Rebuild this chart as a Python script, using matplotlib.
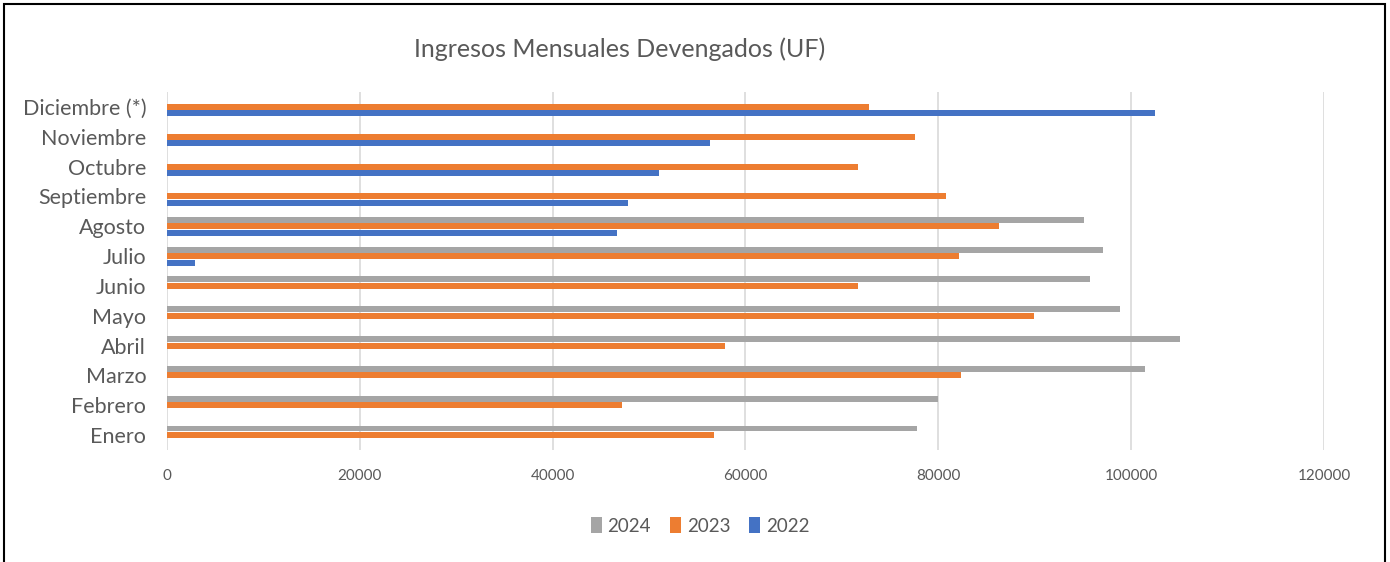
import matplotlib.pyplot as plt
import matplotlib.patches as patches
import numpy as np

plt.rcParams['font.family'] = ['Lato', 'DejaVu Sans']

# months, bottom to top as drawn
meses = ['Enero', 'Febrero', 'Marzo', 'Abril', 'Mayo', 'Junio', 'Julio',
         'Agosto', 'Septiembre', 'Octubre', 'Noviembre', 'Diciembre (*)']
# ingresos en UF (None = sin dato)
v2024 = [77780, 79950, 101440, 105100, 98840, 95780, 97130, 95140,
         None, None, None, None]
v2023 = [56710, 47180, 82360, 57830, 89900, 71710, 82130, 86250,
         80790, 71710, 77590, 72820]
v2022 = [None, None, None, None, None, None, 2910, 46710,
         47820, 51070, 56290, 102500]

series = [('2024', v2024, '#A5A5A5', 0.22),
          ('2023', v2023, '#ED7D31', 0.0),
          ('2022', v2022, '#4472C4', -0.22)]

txt_color = '#595959'

fig = plt.figure(figsize=(13.9, 5.62), dpi=100)
ax = fig.add_axes([167 / 1390, 0.1993, (1324 - 167) / 1390, 0.637])

y = np.arange(len(meses))
for name, vals, col, off in series:
    ys = [yy + off for yy, v in zip(y, vals) if v is not None]
    xs = [v for v in vals if v is not None]
    ax.barh(ys, xs, height=0.2, color=col, label=name, zorder=3)

ax.set_xlim(0, 120000)
ax.set_ylim(-0.5, len(meses) - 0.5)
ax.set_xticks(np.arange(0, 120001, 20000))
ax.set_yticks(y)
ax.set_yticklabels(meses, fontsize=15.5, color=txt_color)
ax.tick_params(axis='x', labelsize=11, colors=txt_color, length=0, pad=14)
ax.tick_params(axis='y', length=0, pad=15)
ax.grid(axis='x', color='#D9D9D9', linewidth=1.2, zorder=0)
for s in ax.spines.values():
    s.set_visible(False)

fig.text(620 / 1390, 1 - 49 / 562, 'Ingresos Mensuales Devengados (UF)',
         ha='center', va='center', fontsize=18, color=txt_color)

fig.legend(loc='center', bbox_to_anchor=(700 / 1390, 1 - 526 / 562), ncol=3,
           frameon=False, fontsize=13.5, labelcolor=txt_color,
           handlelength=0.6, handleheight=0.9, handletextpad=0.3,
           columnspacing=1.0)

# chart border
fig.patches.append(patches.Rectangle((4 / 1390, -0.02), 1381 / 1390, 1.02 - 4 / 562,
                                     transform=fig.transFigure, fill=False,
                                     edgecolor='black', linewidth=1.5))

fig.savefig('out.png', dpi=100)
